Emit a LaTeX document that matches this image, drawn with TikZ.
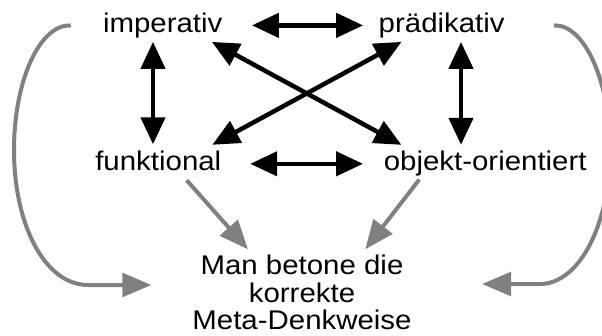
\documentclass[tikz,border=0pt]{standalone}
\usepackage{fontspec}
\setmainfont{Liberation Sans}
\usetikzlibrary{arrows.meta, positioning}

\begin{document}
\begin{tikzpicture}[x=1pt, y=-1pt,
    word/.style={inner sep=0pt, xscale=1.09, font=\fontsize{27}{28}\selectfont,
        text height=19.5pt, text depth=5.7pt},
    note/.style={inner sep=0pt, xscale=1.09, font=\fontsize{27}{27.5}\selectfont, align=center},
    dual/.style={<->, line width=4.5pt, >={Triangle[length=27pt,width=24pt]}},
    lead/.style={->, draw=gray, line width=4pt, >={Triangle[length=29pt,width=23.5pt]}}]
    \useasboundingbox (0,0) rectangle (602,335);

    \node[word, anchor=base] (imp) at (162.7, 32.3) {imperativ};
    \node[word, anchor=base] (pra) at (441.7, 32.3) {prädikativ};
    \node[word, anchor=base] (fun) at (158.3, 170.7) {funktional};
    \node[word, anchor=base] (obj) at (485.2, 170.7) {objekt-orientiert};
    \node[note, anchor=north] (meta) at (302, 255) {Man betone die\\korrekte\\Meta-Denkweise};

    % paradigms among themselves
    \path[dual]
    (imp.east) edge[shorten <=29.3pt, shorten >=15.4pt] (pra.west)
    (fun.east) edge[shorten <=28.7pt, shorten >=20.5pt] (obj.west)
    ([xshift=-9.7pt]imp.south) edge[shorten <=3.7pt, shorten >=6.7pt] ([xshift=-9.7pt]imp.south |- fun.north)
    ([xshift=19.3pt]pra.south) edge[shorten <=3.7pt, shorten >=6.2pt] ([xshift=19.3pt]pra.south |- obj.north)
    ([xshift=-17.5pt]imp.south east) edge[shorten <=7.7pt, shorten >=12.9pt] ([xshift=29.2pt]obj.north west)
    ([xshift=-20.6pt]fun.north east) edge[shorten <=13pt, shorten >=7.7pt] ([xshift=29.8pt]pra.south west);

    % towards the meta level
    \draw[lead] ([xshift=28.4pt, yshift=-3.6pt]fun.south) -- ([xshift=55.8pt, yshift=5.7pt]meta.north west);
    \draw[lead] ([xshift=-65.9pt, yshift=-2.9pt]obj.south) -- ([xshift=-46.5pt, yshift=5.7pt]meta.north east);
    \draw[lead] ([xshift=-32pt]imp.west) .. controls (40,24) and (14,80) .. (14,150)
        .. controls (14,225) and (45,285) .. (88,285) -- ([xshift=-40.8pt, yshift=-30pt]meta.north west);
    \draw[lead] ([xshift=49pt]pra.east) .. controls (584,24) and (610,80) .. (610,150)
        .. controls (610,225) and (579,284) .. (540,284) -- ([xshift=70.2pt, yshift=-29pt]meta.north east);
\end{tikzpicture}
\end{document}
